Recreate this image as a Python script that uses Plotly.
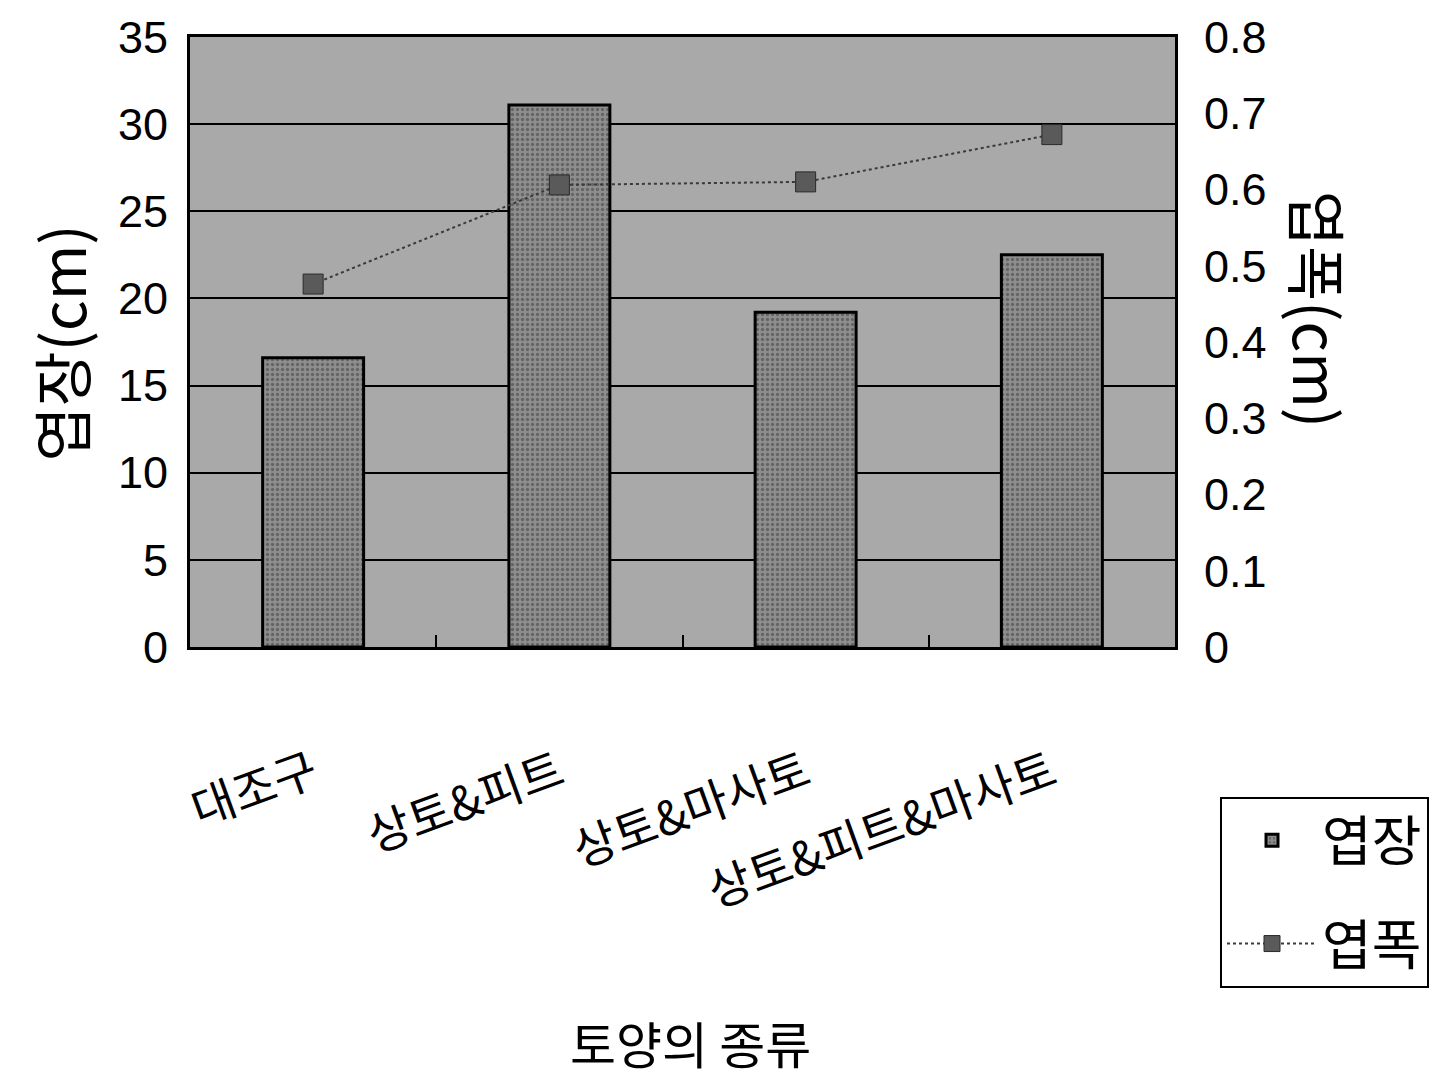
import plotly.graph_objects as go

# Soil mixes on the x axis
categories = ["대조구", "상토&피트", "상토&마사토", "상토&피트&마사토"]
# Leaf length (cm), left axis
leaf_length = [16.6, 31.1, 19.2, 22.5]
# Leaf width (cm), right axis
leaf_width = [0.476, 0.606, 0.61, 0.672]

left_ticks = [0, 5, 10, 15, 20, 25, 30, 35]
right_ticks = [0, 0.1, 0.2, 0.3, 0.4, 0.5, 0.6, 0.7, 0.8]
right_ticktext = ["0", "0.1", "0.2", "0.3", "0.4", "0.5", "0.6", "0.7", "0.8"]

KR = "Noto Sans CJK KR"
NUM = "Liberation Sans, Arial"

fig = go.Figure()

fig.add_trace(go.Bar(
    x=categories, y=leaf_length, name="엽장",
    legendgroup="len",
    marker=dict(
        color="#8e8e8e",
        line=dict(color="black", width=3),
        pattern=dict(shape=".", fgcolor="#3c3c3c", size=5, solidity=0.35),
    ),
    yaxis="y",
))

fig.add_trace(go.Scatter(
    x=categories, y=leaf_width, name="엽폭",
    legendgroup="wid",
    mode="lines+markers",
    line=dict(color="#3a3a3a", width=2, dash="dot"),
    marker=dict(symbol="square", size=20, color="#5a5a5a",
                line=dict(color="#2a2a2a", width=1)),
    yaxis="y2",
))

fig.update_layout(
    width=1452, height=1088,
    margin=dict(l=190, r=277, t=32, b=441),
    paper_bgcolor="white",
    plot_bgcolor="#a9a9a9",
    bargap=0.59,
    showlegend=True,
    legend=dict(
        x=1.0457, y=-0.2455, xanchor="left", yanchor="top",
        bgcolor="white", bordercolor="black", borderwidth=2,
        font=dict(family=KR, size=54, color="black"),
        itemwidth=90, tracegroupgap=30,
    ),
    xaxis=dict(
        type="category",
        tickangle=-20,
        tickfont=dict(family=KR, size=47, color="black"),
        ticklabelstandoff=78,
        ticks="inside", tickson="boundaries", ticklen=12,
        tickcolor="black", tickwidth=2,
        showline=True, linecolor="black", linewidth=3, mirror=True,
        showgrid=False,
        range=[-0.5, 3.5],
    ),
    yaxis=dict(
        range=[0, 35],
        tickvals=left_ticks,
        tickfont=dict(family=NUM, size=45, color="black"),
        showgrid=True, gridcolor="black", gridwidth=2,
        showline=True, linecolor="black", linewidth=3, mirror=True,
        zeroline=False,
        ticks="", ticklabelstandoff=10,
    ),
    yaxis2=dict(
        overlaying="y", side="right",
        range=[0, 0.8],
        tickvals=right_ticks, ticktext=right_ticktext,
        tickfont=dict(family=NUM, size=45, color="black"),
        showgrid=False, zeroline=False,
        ticks="", ticklabelstandoff=28,
    ),
    annotations=[
        dict(text="엽장(cm)", xref="paper", yref="paper",
             x=-0.132, y=0.499, textangle=-90,
             xanchor="center", yanchor="middle", showarrow=False,
             font=dict(family=KR, size=60, color="black")),
        dict(text="엽폭(cm)", xref="paper", yref="paper",
             x=1.147, y=0.553, textangle=90,
             xanchor="center", yanchor="middle", showarrow=False,
             font=dict(family=KR, size=60, color="black")),
        dict(text="토양의 종류", xref="paper", yref="paper",
             x=0.508, y=-0.647,
             xanchor="center", yanchor="middle", showarrow=False,
             font=dict(family=KR, size=50, color="black")),
    ],
)

fig.write_html("out.html")
